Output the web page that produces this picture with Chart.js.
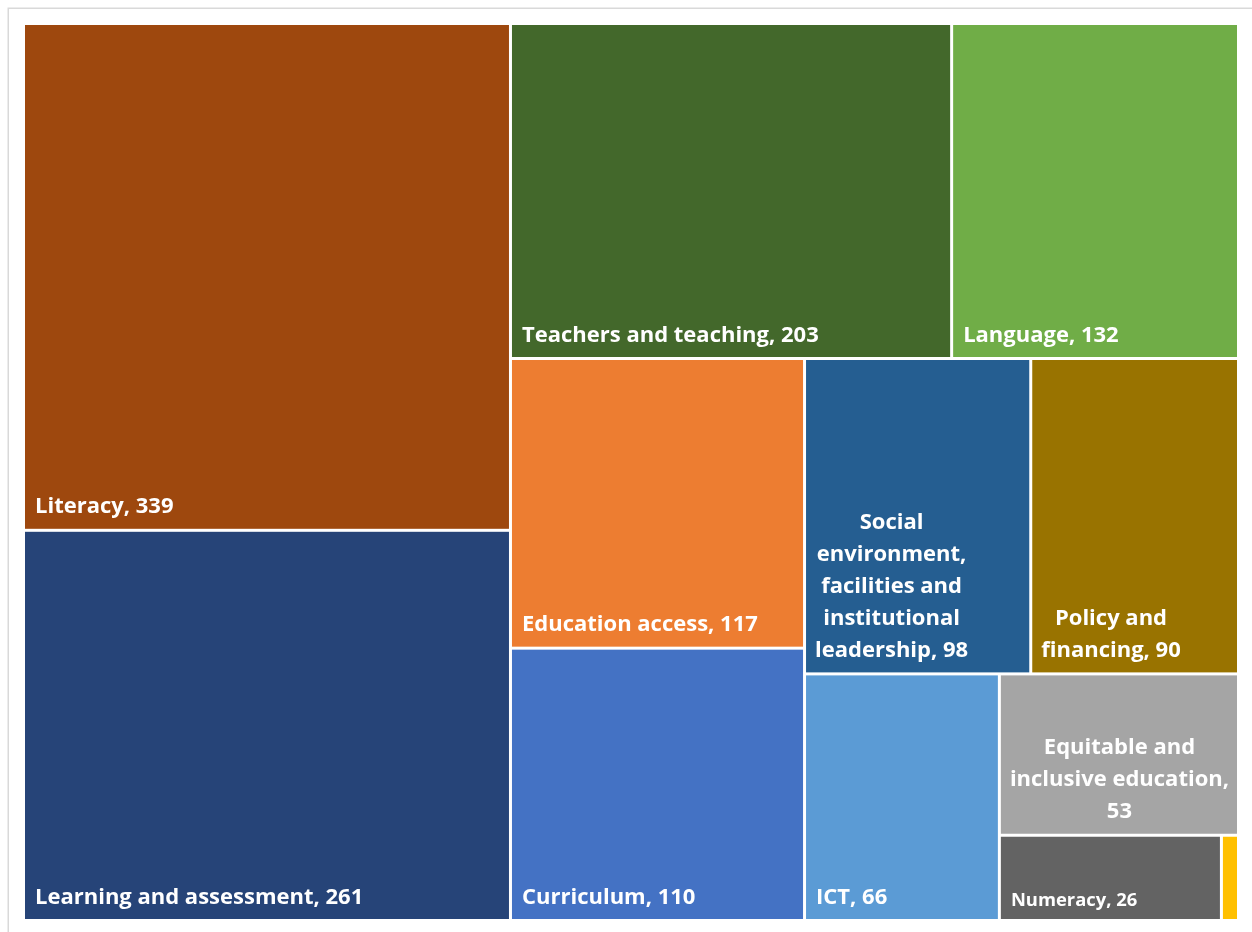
<!DOCTYPE html>
<html>
<head>
<meta charset="utf-8">
<title>Research topics treemap</title>
<script src="https://cdn.jsdelivr.net/npm/chart.js@4.4.1/dist/chart.umd.min.js"></script>
<style>
    html, body { margin: 0; padding: 0; background: #fff; }
    canvas { display: block; }
</style>
</head>
<body>
<canvas id="tree" width="1252" height="932"></canvas>
<script>
// Categories and counts, largest first
const topics = [
    'Literacy', 'Learning and assessment', 'Teachers and teaching', 'Language',
    'Education access', 'Curriculum', 'Social environment, facilities and institutional leadership',
    'Policy and financing', 'ICT', 'Equitable and inclusive education', 'Numeracy', 'Other'
];
const counts = [339, 261, 203, 132, 117, 110, 98, 90, 66, 53, 26, 2];
const fills = [
    '#9E480E', '#264478', '#43682B', '#70AD47',
    '#ED7D31', '#4472C4', '#255E91',
    '#997300', '#5B9BD5', '#A5A5A5', '#636363', '#FFC000'
];

const FONT = '"Open Sans", Lato, sans-serif';

// Squarified layout inside a w x h box, returns [x0, y0, x1, y1] per value
const squarify = (values, w, h) => {
    const total = values.reduce((a, b) => a + b, 0);
    const k = w * h / total;
    const areas = values.map(v => v * k);
    const out = [];
    let x = 0, y = 0;
    let i = 0;

    const worst = (row, side) => {
        const s = row.reduce((a, b) => a + b, 0);
        const mx = Math.max(...row), mn = Math.min(...row);
        return Math.max(side * side * mx / (s * s), s * s / (side * side * mn));
    };

    const place = row => {
        const s = row.reduce((a, b) => a + b, 0);
        if (w >= h) {
            // column on the left
            const cw = s / h;
            let yy = y;
            row.forEach(a => { out.push([x, yy, x + cw, yy + a / cw]); yy += a / cw; });
            x += cw; w -= cw;
        } else {
            // row across the top
            const rh = s / w;
            let xx = x;
            row.forEach(a => { out.push([xx, y, xx + a / rh, y + rh]); xx += a / rh; });
            y += rh; h -= rh;
        }
    };

    while (i < areas.length) {
        let row = [areas[i++]];
        const side = Math.min(w, h);
        while (i < areas.length && worst([...row, areas[i]], side) <= worst(row, side)) {
            row.push(areas[i++]);
        }
        place(row);
    }
    return out;
};

// Greedy word wrap for a cell label
const wrap = (ctx, text, maxW) => {
    const words = text.split(' ');
    const lines = [];
    let cur = '';
    words.forEach(wd => {
        const test = cur ? cur + ' ' + wd : wd;
        if (ctx.measureText(test).width <= maxW || !cur) cur = test;
        else { lines.push(cur); cur = wd; }
    });
    if (cur) lines.push(cur);
    return lines;
};

// Frame line on the top and left of the chart
const framePlugin = {
    id: 'frame',
    beforeDraw(chart) {
        const { ctx, width, height } = chart;
        ctx.save();
        ctx.strokeStyle = '#D9D9D9';
        ctx.lineWidth = 1.5;
        ctx.beginPath();
        ctx.moveTo(8.25, height + 2);
        ctx.lineTo(8.25, 8.25);
        ctx.lineTo(width + 2, 8.25);
        ctx.stroke();
        ctx.restore();
    }
};

// Cells and their labels, placed through the x / y scales
const treemapPlugin = {
    id: 'treemap',
    afterDatasetsDraw(chart) {
        const { ctx, chartArea: area, scales: { x: xs, y: ys } } = chart;
        const W = area.right - area.left, H = area.bottom - area.top;
        const rects = squarify(counts, W, H).map(r => [
            r[0] / W * 100, r[1] / H * 100, r[2] / W * 100, r[3] / H * 100
        ]);
        const gap = 1.5;

        ctx.save();
        rects.forEach((r, i) => {
            const l = xs.getPixelForValue(r[0]) + gap;
            const rt = xs.getPixelForValue(r[2]) - gap;
            const t = ys.getPixelForValue(r[1]) + gap;
            const b = ys.getPixelForValue(r[3]) - gap;
            ctx.fillStyle = fills[i];
            ctx.fillRect(l, t, rt - l, b - t);

            if (topics[i] === 'Other') return;
            const cw = rt - l, ch = b - t;
            const size = Math.min(22, Math.sqrt(cw * ch) / 7.3);
            const pad = 9;
            ctx.font = `bold ${size}px ${FONT}`;
            const lines = wrap(ctx, `${topics[i]}, ${counts[i]}`, cw - 2 * pad + 2);
            const blockW = Math.max(...lines.map(s => ctx.measureText(s).width));
            if (blockW > cw - 2 * pad + 4) return;
            const lh = size * 1.46;
            const left = lines.length > 1 ? l + pad : l + pad + 1;
            const cx = left + blockW / 2;
            let base = b - size * 0.7 - (lines.length - 1) * lh;
            ctx.fillStyle = '#FFFFFF';
            ctx.textAlign = 'center';
            ctx.textBaseline = 'alphabetic';
            lines.forEach(s => { ctx.fillText(s, cx, base); base += lh; });
        });
        ctx.restore();
    }
};

new Chart(document.getElementById('tree').getContext('2d'), {
    type: 'scatter',
    data: { datasets: [{ data: [] }] },
    options: {
        responsive: false,
        animation: false,
        layout: { padding: { left: 23.5, top: 23.5, right: 13.5, bottom: 11.5 } },
        scales: {
            x: { type: 'linear', min: 0, max: 100, display: false },
            y: { type: 'linear', min: 0, max: 100, reverse: true, display: false }
        },
        plugins: { legend: { display: false }, tooltip: { enabled: false } }
    },
    plugins: [framePlugin, treemapPlugin]
});
</script>
</body>
</html>
